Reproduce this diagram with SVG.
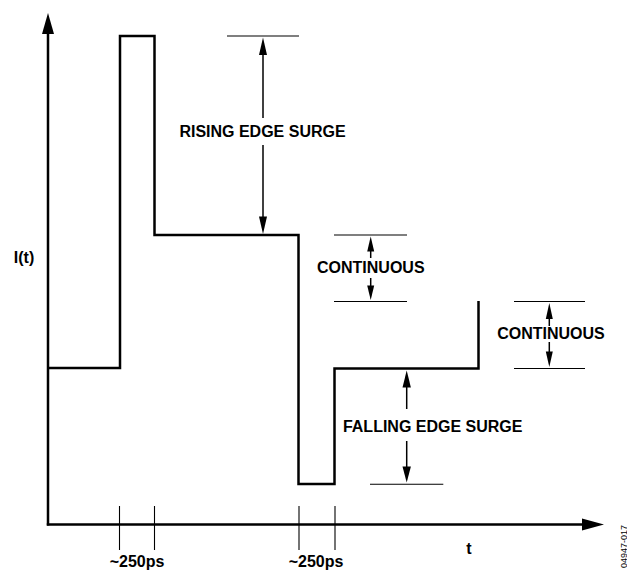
<svg xmlns="http://www.w3.org/2000/svg" width="627" height="571" viewBox="0 0 627 571">
<style>
.bg{fill:#fff}
.wave{fill:none;stroke:#000;stroke-width:2.5;stroke-linejoin:miter}
.axis{fill:none;stroke:#000;stroke-width:2.5}
.thin{fill:none;stroke:#000;stroke-width:1.1}
.shaft{fill:none;stroke:#000;stroke-width:1.5}
.head{fill:#000;stroke:none}
.lbl{font-family:"Liberation Sans",Arial,sans-serif;font-weight:bold;font-size:16px;fill:#000;text-anchor:middle}
.code{font-family:"Liberation Sans",Arial,sans-serif;font-size:9px;fill:#000;text-anchor:end}
</style>
<rect class="bg" x="0" y="0" width="627" height="571"/>
<g id="axes">
  <line class="axis" x1="48" y1="525.5" x2="48" y2="32"/>
  <polygon class="head" points="48,13 42,34 54,34"/>
  <line class="axis" x1="46.8" y1="524.5" x2="584" y2="524.5"/>
  <polygon class="head" points="604,524.5 582,518.5 582,530.5"/>
  <text class="lbl" x="24" y="263">I(t)</text>
  <text class="lbl" x="469" y="554">t</text>
</g>
<g id="waveform">
  <polyline class="wave" points="48,368 120,368 120,36 154.5,36 154.5,235 298.5,235 298.5,484 334.5,484 334.5,368.5 478.5,368.5 478.5,301"/>
</g>
<g id="ticks">
  <line class="thin" x1="119.5" y1="506" x2="119.5" y2="550"/>
  <line class="thin" x1="154.5" y1="506" x2="154.5" y2="550"/>
  <line class="thin" x1="299" y1="506" x2="299" y2="550"/>
  <line class="thin" x1="335" y1="506" x2="335" y2="550"/>
  <text class="lbl" x="137" y="567">~250ps</text>
  <text class="lbl" x="316" y="567">~250ps</text>
</g>
<g id="rising-edge-surge">
  <line class="thin" x1="227" y1="36" x2="299" y2="36"/>
  <polygon class="head" points="263,37.5 259,55 267,55"/>
  <line class="shaft" x1="263" y1="54" x2="263" y2="118"/>
  <line class="shaft" x1="263" y1="145" x2="263" y2="218"/>
  <polygon class="head" points="263,234 259,216.5 267,216.5"/>
  <text class="lbl" x="262.5" y="137">RISING EDGE SURGE</text>
</g>
<g id="continuous-1">
  <line class="thin" x1="334" y1="235" x2="407" y2="235"/>
  <line class="thin" x1="334" y1="301.5" x2="407" y2="301.5"/>
  <polygon class="head" points="370.7,236.5 367.2,251.5 374.2,251.5"/>
  <line class="shaft" x1="370.7" y1="250" x2="370.7" y2="258"/>
  <line class="shaft" x1="370.7" y1="278" x2="370.7" y2="287"/>
  <polygon class="head" points="370.7,300 367.2,285.5 374.2,285.5"/>
  <text class="lbl" x="370.8" y="273">CONTINUOUS</text>
</g>
<g id="continuous-2">
  <line class="thin" x1="514" y1="301.5" x2="585" y2="301.5"/>
  <line class="thin" x1="514" y1="368.5" x2="585" y2="368.5"/>
  <polygon class="head" points="549.3,303 545.8,319 552.8,319"/>
  <line class="shaft" x1="549.3" y1="318" x2="549.3" y2="326"/>
  <line class="shaft" x1="549.3" y1="342" x2="549.3" y2="352"/>
  <polygon class="head" points="549.3,367 545.8,351.5 552.8,351.5"/>
  <text class="lbl" x="551" y="339.3">CONTINUOUS</text>
</g>
<g id="falling-edge-surge">
  <line class="thin" x1="370" y1="484.3" x2="443.3" y2="484.3"/>
  <polygon class="head" points="406.7,370.5 402.5,387.5 410.9,387.5"/>
  <line class="shaft" x1="406.7" y1="386" x2="406.7" y2="409"/>
  <line class="shaft" x1="406.7" y1="441" x2="406.7" y2="468"/>
  <polygon class="head" points="406.7,482.5 402.5,466.5 410.9,466.5"/>
  <text class="lbl" x="432.7" y="432.3">FALLING EDGE SURGE</text>
</g>
<text class="code" x="0" y="0" transform="translate(626.5,525) rotate(-90)">04947-017</text>
</svg>
